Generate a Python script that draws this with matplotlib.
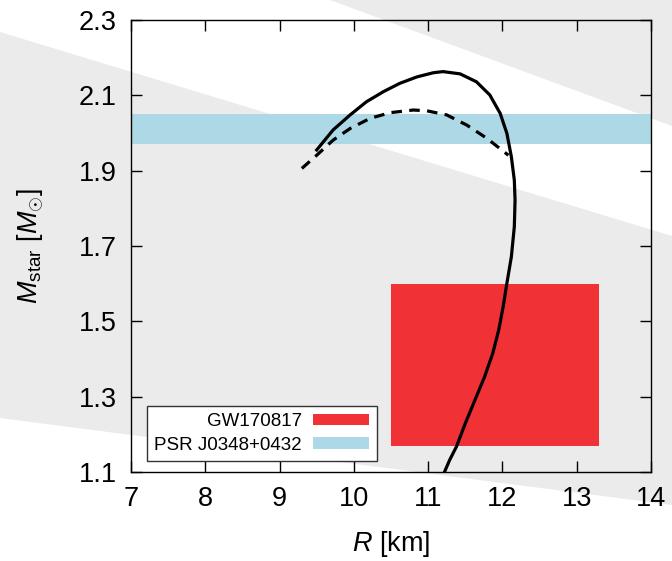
import matplotlib
matplotlib.use('Agg')
import matplotlib.pyplot as plt
from matplotlib.patches import Polygon

plt.rcParams['font.family'] = ['Liberation Sans', 'DejaVu Sans']
plt.rcParams['mathtext.fontset'] = 'custom'
plt.rcParams['mathtext.rm'] = 'Liberation Sans'
plt.rcParams['mathtext.it'] = 'Liberation Sans:italic'

# mass-radius curve, full line
r_solid = [9.50, 9.72, 9.95, 10.17, 10.40, 10.62, 10.85, 11.07, 11.20, 11.43,
           11.65, 11.83, 11.97, 12.06, 12.12, 12.16, 12.17, 12.16, 12.12, 12.09,
           12.06, 12.01, 11.95, 11.87, 11.76, 11.63, 11.50, 11.38, 11.29, 11.22]
m_solid = [1.955, 2.008, 2.048, 2.083, 2.110, 2.132, 2.149, 2.160, 2.163, 2.157,
           2.136, 2.101, 2.052, 1.999, 1.937, 1.875, 1.822, 1.751, 1.671, 1.636,
           1.601, 1.539, 1.477, 1.415, 1.353, 1.291, 1.229, 1.167, 1.132, 1.100]

# mass-radius curve, dashed line
r_dash = [9.30, 9.50, 9.72, 9.95, 10.22, 10.49, 10.80, 10.98, 11.25, 11.52, 11.79, 12.08]
m_dash = [1.906, 1.941, 1.981, 2.012, 2.039, 2.054, 2.061, 2.059, 2.048, 2.021, 1.986, 1.941]

# observational constraints
gw_r = [10.5, 13.3]
gw_m = [1.17, 1.60]
psr_m = [1.97, 2.05]

fig = plt.figure(figsize=(6.72, 5.61), dpi=100)

# grey background stripes
stripes = [
    [(330 / 672, 1.0), (1.0, 1.0), (1.0, 1 - 126 / 561)],
    [(0.0, 1 - 32 / 561), (1.0, 1 - 236 / 561), (1.0, 1 - 505 / 561), (0.0, 1 - 418 / 561)],
]
for verts in stripes:
    fig.add_artist(Polygon(verts, closed=True, transform=fig.transFigure,
                           facecolor='#ebebeb', edgecolor='none', zorder=-1))

ax = fig.add_axes([131 / 672, 89 / 561, 520 / 672, 452 / 561])
ax.set_facecolor('none')

gw = ax.fill_between(gw_r, gw_m[0], gw_m[1], color='#f03236', lw=0, label='GW170817')
psr = ax.axhspan(psr_m[0], psr_m[1], color='#add8e6', lw=0, label='PSR J0348+0432')

ax.plot(r_solid, m_solid, color='black', lw=2.3)
ax.plot(r_dash, m_dash, color='black', lw=2.3, dashes=(3.3, 2.3))

ax.set_xlim(7, 14)
ax.set_ylim(1.1, 2.3)
ax.set_xticks(range(7, 15))
ax.set_yticks([1.1, 1.3, 1.5, 1.7, 1.9, 2.1, 2.3])
ax.tick_params(direction='in', top=True, right=True, length=8, width=1,
               labelsize=19.5, pad=10)
for s in ax.spines.values():
    s.set_linewidth(1.0)

ax.set_xlabel(r'$R$ [km]', fontsize=19.5, labelpad=12)
ax.set_ylabel(r'$M_{\rm star}$ [$M_{\odot}$]', fontsize=19.5, labelpad=24)

leg = ax.legend(handles=[gw, psr], loc='lower left', bbox_to_anchor=(0.03, 0.024),
                borderaxespad=0, markerfirst=False, fontsize=13.5, frameon=True,
                fancybox=False, framealpha=1, edgecolor='#333333',
                handlelength=3.0, handleheight=0.6, labelspacing=0.35,
                handletextpad=0.6, borderpad=0.4)
leg.get_frame().set_linewidth(1.0)

plt.savefig('out.png', dpi=100)
